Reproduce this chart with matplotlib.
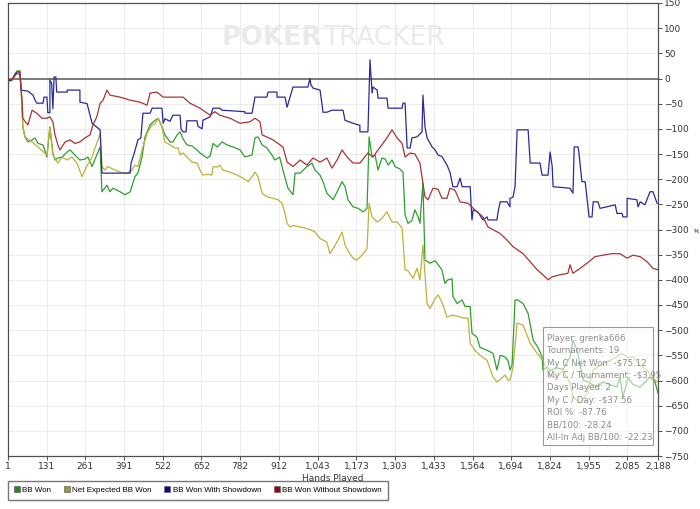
import numpy as np
import matplotlib.pyplot as plt
from matplotlib.lines import Line2D
from matplotlib.patches import Rectangle

# hands played vs bb won
bb_won_x = [1, 14, 24, 31, 41, 45, 48, 51, 58, 68, 82, 92, 102, 119, 132, 142, 152, 159, 169, 183, 200, 210, 226, 243,
            260, 270, 284, 294, 311, 317, 334, 344, 354, 378, 395, 412, 428, 438, 452, 462, 479, 496, 506, 519, 529,
            546, 556, 570, 580, 590, 603, 620, 637, 647, 671, 681, 691, 705, 721, 738, 758, 782, 798, 822, 832, 842,
            856, 872, 889, 899, 915, 926, 943, 960, 967, 984, 1007, 1024, 1034, 1051, 1061, 1074, 1095, 1111, 1125,
            1135, 1145, 1162, 1179, 1196, 1209, 1216, 1226, 1236, 1246, 1259, 1270, 1280, 1293, 1303, 1320, 1330,
            1337, 1347, 1360, 1370, 1381, 1387, 1397, 1404, 1421, 1438, 1448, 1461, 1471, 1481, 1495, 1498, 1512,
            1529, 1539, 1556, 1562, 1579, 1589, 1613, 1633, 1646, 1657, 1673, 1683, 1690, 1697, 1707, 1717, 1734,
            1751, 1768, 1784, 1798, 1801, 1815, 1825, 1848, 1869, 1892, 1902, 1916, 1936, 1959, 1983, 2003, 2027,
            2050, 2060, 2070, 2087, 2104, 2128, 2144, 2161, 2178, 2188]
bb_won_y = [0, -3, 8, 15, 15, -20, -60, -96, -116, -126, -122, -118, -129, -132, -156, -96, -148, -162, -158, -156,
            -146, -142, -152, -162, -160, -156, -175, -160, -136, -225, -212, -225, -218, -225, -231, -225, -195,
            -188, -156, -116, -92, -83, -79, -96, -112, -126, -126, -112, -106, -120, -132, -134, -142, -148, -158,
            -154, -129, -136, -126, -132, -136, -142, -156, -152, -118, -116, -132, -138, -152, -162, -156, -182,
            -218, -231, -188, -188, -175, -168, -182, -192, -205, -228, -241, -222, -205, -215, -241, -255, -258,
            -265, -258, -116, -156, -152, -182, -158, -160, -172, -162, -175, -180, -186, -271, -288, -282, -261,
            -275, -288, -208, -361, -367, -362, -370, -380, -407, -400, -398, -433, -447, -440, -453, -453, -506,
            -514, -534, -540, -546, -579, -550, -553, -560, -579, -570, -440, -440, -447, -467, -520, -534, -553,
            -579, -573, -580, -575, -578, -553, -520, -540, -599, -605, -613, -603, -608, -613, -593, -633, -595,
            -608, -613, -603, -593, -603, -625]

net_ev_x = [1, 14, 24, 31, 41, 45, 48, 51, 58, 82, 132, 142, 152, 169, 183, 200, 216, 233, 250, 260, 270, 284, 294,
            304, 311, 317, 327, 337, 354, 378, 401, 418, 428, 438, 452, 469, 486, 496, 506, 519, 529, 546, 563, 573,
            580, 590, 603, 620, 637, 647, 657, 674, 687, 691, 705, 714, 724, 748, 772, 792, 809, 822, 832, 842, 856,
            872, 893, 910, 923, 933, 940, 950, 960, 984, 1000, 1017, 1034, 1051, 1074, 1084, 1095, 1111, 1125, 1135,
            1151, 1162, 1175, 1192, 1209, 1216, 1226, 1243, 1259, 1276, 1293, 1310, 1327, 1337, 1347, 1364, 1377,
            1387, 1397, 1411, 1421, 1438, 1448, 1461, 1478, 1495, 1512, 1532, 1549, 1556, 1572, 1589, 1613, 1633,
            1646, 1663, 1673, 1683, 1690, 1700, 1714, 1734, 1758, 1781, 1801, 1825, 1848, 1869, 1892, 1902, 1926,
            1949, 1970, 1993, 2027, 2050, 2067, 2087, 2104, 2128, 2151, 2168, 2185]
net_ev_y = [0, -3, 8, 15, 15, -20, -60, -96, -116, -126, -152, -96, -152, -168, -156, -162, -156, -168, -195, -182,
            -170, -156, -138, -122, -109, -175, -182, -175, -180, -186, -188, -182, -172, -175, -142, -109, -92, -90,
            -79, -96, -126, -132, -138, -138, -152, -148, -156, -166, -168, -182, -192, -190, -192, -175, -176, -172,
            -182, -186, -192, -198, -205, -195, -186, -195, -228, -235, -238, -241, -248, -268, -288, -295, -292,
            -295, -297, -300, -305, -318, -325, -348, -338, -321, -305, -331, -348, -357, -361, -351, -338, -248,
            -275, -285, -278, -265, -285, -285, -297, -380, -382, -397, -377, -400, -331, -447, -457, -437, -430,
            -444, -474, -470, -472, -476, -476, -526, -540, -550, -560, -593, -603, -595, -589, -599, -599, -575,
            -486, -490, -526, -546, -560, -593, -593, -579, -605, -633, -645, -625, -579, -570, -560, -553, -546,
            -555, -553, -570, -579, -593, -603]

sd_x = [1, 8, 14, 24, 31, 41, 45, 68, 85, 92, 98, 119, 122, 132, 135, 142, 142, 148, 152, 156, 162, 165, 200, 200,
        243, 243, 267, 270, 284, 311, 317, 412, 415, 425, 438, 448, 455, 479, 486, 519, 523, 529, 546, 556, 580, 583,
        590, 600, 603, 637, 640, 654, 657, 681, 691, 714, 721, 798, 798, 822, 832, 872, 876, 906, 906, 933, 940, 960,
        1010, 1017, 1020, 1027, 1051, 1061, 1074, 1091, 1128, 1135, 1162, 1185, 1185, 1212, 1219, 1226, 1229, 1243,
        1246, 1276, 1280, 1327, 1330, 1337, 1344, 1354, 1360, 1377, 1394, 1397, 1404, 1411, 1428, 1438, 1448, 1461,
        1478, 1488, 1498, 1512, 1522, 1529, 1556, 1562, 1566, 1582, 1599, 1613, 1616, 1646, 1650, 1657, 1680, 1690,
        1690, 1700, 1707, 1714, 1751, 1758, 1791, 1798, 1818, 1825, 1832, 1835, 1892, 1902, 1906, 1919, 1922, 1932,
        1943, 1956, 1966, 1970, 1986, 1993, 2044, 2050, 2067, 2070, 2084, 2084, 2117, 2121, 2128, 2144, 2161, 2171,
        2185]
sd_y = [0, -5, -3, 8, 13, 13, -23, -25, -33, -43, -49, -49, -37, -37, -68, -68, -3, -10, -60, 3, 3, -27, -27, -23,
        -23, -47, -50, -57, -89, -102, -188, -188, -168, -150, -122, -118, -69, -69, -59, -59, -89, -80, -85, -73, -73,
        -100, -106, -106, -84, -84, -95, -100, -83, -76, -59, -59, -63, -66, -69, -69, -37, -37, -27, -27, -37, -37,
        -57, -17, -17, 0, -12, -19, -23, -67, -67, -63, -63, -83, -89, -93, -106, -106, 37, -29, -17, -23, -39, -39,
        -59, -59, -49, -49, -138, -138, -118, -116, -106, -33, -96, -118, -136, -142, -152, -155, -172, -186, -215,
        -215, -198, -215, -215, -281, -261, -265, -281, -275, -281, -281, -265, -245, -245, -255, -238, -236, -215,
        -102, -102, -168, -168, -192, -192, -146, -175, -215, -218, -228, -136, -136, -148, -205, -205, -275, -275,
        -245, -245, -258, -251, -268, -268, -275, -275, -238, -241, -255, -245, -251, -225, -225, -248]

nsd_x = [1, 14, 24, 31, 41, 48, 51, 58, 68, 82, 98, 115, 132, 142, 152, 159, 169, 176, 193, 210, 226, 243, 260, 277,
         287, 300, 311, 321, 334, 344, 378, 412, 445, 469, 479, 502, 523, 556, 590, 613, 647, 681, 697, 714, 748, 782,
         815, 832, 849, 856, 893, 926, 940, 960, 984, 1007, 1027, 1051, 1074, 1091, 1108, 1125, 1142, 1162, 1185,
         1212, 1229, 1246, 1276, 1293, 1310, 1327, 1337, 1354, 1370, 1387, 1404, 1414, 1431, 1448, 1461, 1478, 1488,
         1505, 1522, 1549, 1579, 1599, 1616, 1657, 1680, 1700, 1734, 1758, 1781, 1801, 1818, 1832, 1858, 1885, 1892,
         1902, 1926, 1949, 1976, 2003, 2033, 2060, 2084, 2104, 2128, 2151, 2171, 2188]
nsd_y = [0, -3, 5, 10, 8, -40, -79, -85, -92, -63, -69, -79, -79, -76, -86, -112, -132, -142, -126, -122, -129, -126,
         -118, -112, -92, -76, -49, -43, -23, -33, -37, -43, -47, -53, -29, -27, -37, -37, -37, -49, -59, -73, -66, -73,
         -79, -89, -86, -79, -86, -112, -122, -136, -166, -175, -162, -172, -158, -166, -158, -178, -162, -142, -156,
         -168, -168, -148, -156, -142, -118, -102, -118, -129, -156, -148, -150, -168, -235, -241, -218, -220, -238,
         -238, -218, -222, -245, -248, -265, -275, -295, -308, -321, -334, -348, -364, -380, -390, -400, -394, -390,
         -387, -370, -387, -377, -367, -354, -351, -348, -348, -357, -351, -354, -364, -377, -380]

x_ticks = [1, 131, 261, 391, 522, 652, 782, 912, 1043, 1173, 1303, 1433, 1564, 1694, 1824, 1955, 2085, 2188]
x_tick_labels = ['1', '131', '261', '391', '522', '652', '782', '912', '1,043', '1,173', '1,303', '1,433',
                 '1,564', '1,694', '1,824', '1,955', '2,085', '2,188']
y_ticks = list(range(-750, 151, 50))

stats_lines = ['Player: grenka666', 'Tournaments: 19', 'My C Net Won: -\\$75.12',
               'My C / Tournament: -\\$3.95', 'Days Played: 2', 'My C / Day: -\\$37.56',
               'ROI %: -87.76', 'BB/100: -28.24', 'All-In Adj BB/100: -22.23']

names = ['BB Won', 'Net Expected BB Won', 'BB Won With Showdown', 'BB Won Without Showdown']
line_colors = ['#2f9e2f', '#bdb13a', '#2a2a9c', '#a83434']
legend_colors = ['#1f8a1f', '#9c9a2e', '#0a0a8c', '#8c0a14']

fig = plt.figure(figsize=(7, 5.09), dpi=100)
ax = fig.add_axes([8/700, 1-456/509, 650/700, 453/509])

ax.plot(bb_won_x, bb_won_y, color=line_colors[0], lw=0.9, zorder=3)
ax.plot(net_ev_x, net_ev_y, color=line_colors[1], lw=0.9, zorder=3)
ax.plot(sd_x, sd_y, color=line_colors[2], lw=0.9, zorder=3)
ax.plot(nsd_x, nsd_y, color=line_colors[3], lw=0.9, zorder=3)

ax.axhline(0, color='#7a7a7a', lw=1.4, zorder=2)

ax.set_xlim(1, 2188)
ax.set_ylim(-750, 150)
ax.set_xticks(x_ticks)
ax.set_xticklabels(x_tick_labels)
ax.set_yticks(y_ticks)
ax.yaxis.tick_right()
ax.yaxis.set_label_position('right')
ax.tick_params(labelsize=6.5, colors='#333333', length=3, width=0.6, pad=1.5)
ax.grid(True, color='#e8e8e8', lw=0.6, zorder=0)
for s in ax.spines.values():
    s.set_color('#505050')
    s.set_linewidth(0.9)
ax.set_xlabel('Hands Played', fontsize=6.5, color='#333333')
ax.xaxis.set_label_coords((333-8)/650, -0.04)
ax.set_ylabel('#', fontsize=5, rotation=270, color='#555555', labelpad=6)

# watermark
ax.text(0.483, 0.923, 'POKER', transform=ax.transAxes, fontsize=19, fontweight='bold',
        color='#eaeaea', ha='right', va='center', zorder=1)
ax.text(0.485, 0.923, 'TRACKER', transform=ax.transAxes, fontsize=19,
        color='#eaeaea', ha='left', va='center', zorder=1)

# stats box
box = Rectangle((0.823, 0.024), 0.169, 0.261, transform=ax.transAxes, facecolor='white',
                alpha=0.55, edgecolor='none', zorder=4)
ax.add_patch(box)
ax.add_patch(Rectangle((0.823, 0.024), 0.169, 0.261, transform=ax.transAxes, facecolor='none',
                       edgecolor='#999999', lw=0.8, zorder=5))
for i, line in enumerate(stats_lines):
    ax.text(0.829, 0.26 - i * 0.0274, line, transform=ax.transAxes, fontsize=6.2,
            color='#8c8c8c', ha='left', va='center', zorder=6)

handles = [Line2D([], [], ls='none', marker='s', markersize=4.5, markerfacecolor=c,
                  markeredgecolor='#666666', markeredgewidth=0.5) for c in legend_colors]
fig.legend(handles, names, loc='upper left', bbox_to_anchor=(8/700, 1-481/509), ncol=4,
           prop={'family': 'Liberation Sans', 'size': 5.8}, frameon=True, fancybox=False,
           edgecolor='#555555', handlelength=0.8, handletextpad=0.3, columnspacing=1.5,
           borderpad=0.7, borderaxespad=0)

fig.savefig('out.png', dpi=100)
